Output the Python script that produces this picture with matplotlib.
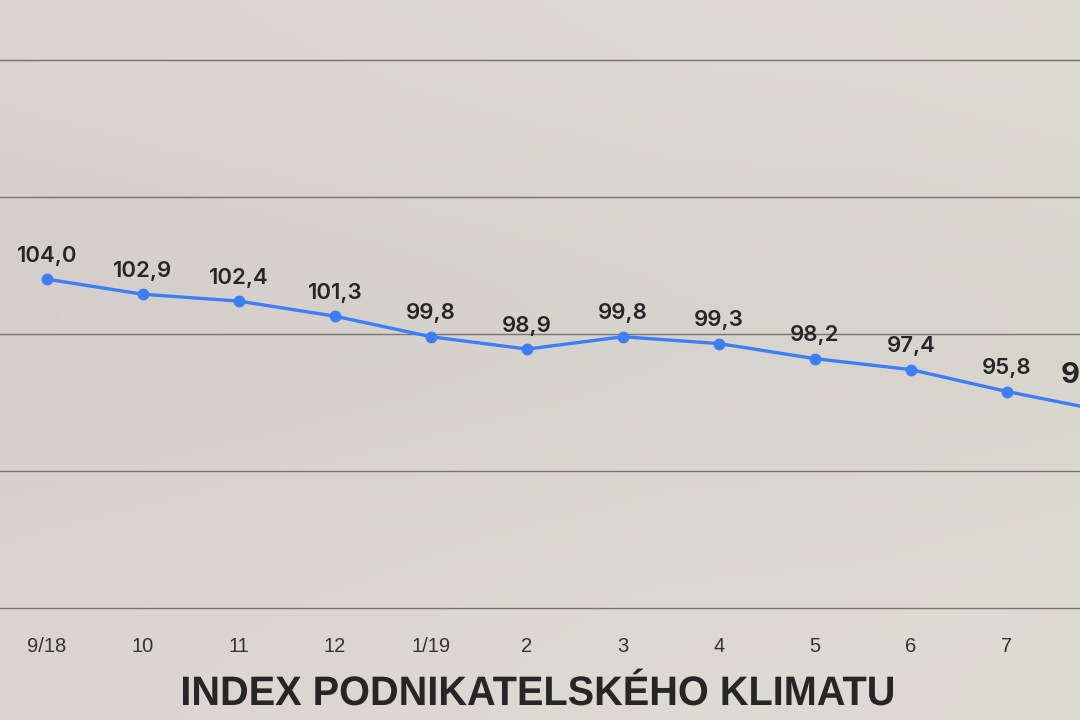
import numpy as np
import matplotlib.pyplot as plt
from matplotlib.textpath import TextPath
from matplotlib.patches import PathPatch
from matplotlib.font_manager import FontProperties
from matplotlib.transforms import Affine2D

months = ["9/18", "10", "11", "12", "1/19", "2", "3", "4", "5", "6", "7", "8"]
values = [104.0, 102.9, 102.4, 101.3, 99.8, 98.9, 99.8, 99.3, 98.2, 97.4, 95.8, 94.4]
grid_levels = [80, 90, 100, 110, 120]
title = "INDEX PODNIKATELSKÉHO KLIMATU"

BLUE = "#3d7ef5"
TEXT = "#262626"

fig = plt.figure(figsize=(10.8, 7.2), dpi=100)

# soft grey background
bg = fig.add_axes([0, 0, 1, 1], zorder=0)
yy, xx = np.mgrid[0:1:200j, 0:1:300j]
c_left = np.array([219, 213, 210]) / 255
c_right = np.array([223, 220, 212]) / 255
shade = 1 - 0.03 * np.exp(-((yy - 0.45) ** 2) / 0.08)
img = (c_left[None, None, :] * (1 - xx[..., None]) + c_right[None, None, :] * xx[..., None]) * shade[..., None]
bg.imshow(img, aspect="auto", extent=[0, 1, 0, 1])
bg.axis("off")

ax = fig.add_axes([0, 112 / 720, 1, 548 / 720], zorder=1)
ax.patch.set_alpha(0)
x = np.arange(len(values))

for g in grid_levels:
    ax.axhline(g, color="#77726d", lw=1.0, zorder=1, clip_on=False)

ax.plot(x, values, color=BLUE, lw=2.4, marker="o", ms=7.5, zorder=3)

for i, v in enumerate(values):
    lbl = f"{v:.1f}".replace(".", ",")
    if i == len(values) - 1:
        # latest month: bigger, bold, mostly past the right edge
        ax.annotate(lbl, (i, v), xytext=(-30.5, 25), textcoords="offset points",
                    ha="left", va="center", fontsize=21, fontweight="bold",
                    color=TEXT, family=["Inter", "Liberation Sans"],
                    annotation_clip=False)
    else:
        ax.text(i, v + 1.7, lbl, ha="center", va="center", fontsize=16,
                fontweight="semibold", color=TEXT, family=["Inter", "Liberation Sans"])

ax.set_xticks(x)
ax.set_xticklabels(months, fontsize=14.5, color="#333333", family="Liberation Sans")
ax.tick_params(axis="x", length=0, pad=21)
ax.set_yticks([])
# limits after ticks so the last month stays partly off the edge
ax.set_xlim(-47 / 96, (1080 - 47) / 96)
ax.set_ylim(80, 120)
for s in ax.spines.values():
    s.set_visible(False)

# condensed bold title: squeeze a text path horizontally
tax = fig.add_axes([0, 0, 1, 1], zorder=2)
tax.set_xlim(0, 1080)
tax.set_ylim(0, 720)
tax.axis("off")
tp = TextPath((0, 0), title, size=1, prop=FontProperties(family="Liberation Sans", weight="bold"))
ext = tp.get_extents()
sx = 710 / (ext.x1 - ext.x0)
sy = 30 / 0.729
tr = Affine2D().scale(sx, sy).translate(183 - ext.x0 * sx, 720 - 705)
tax.add_patch(PathPatch(tr.transform_path(tp), color=TEXT, lw=0))

fig.savefig("out.png", dpi=100)
